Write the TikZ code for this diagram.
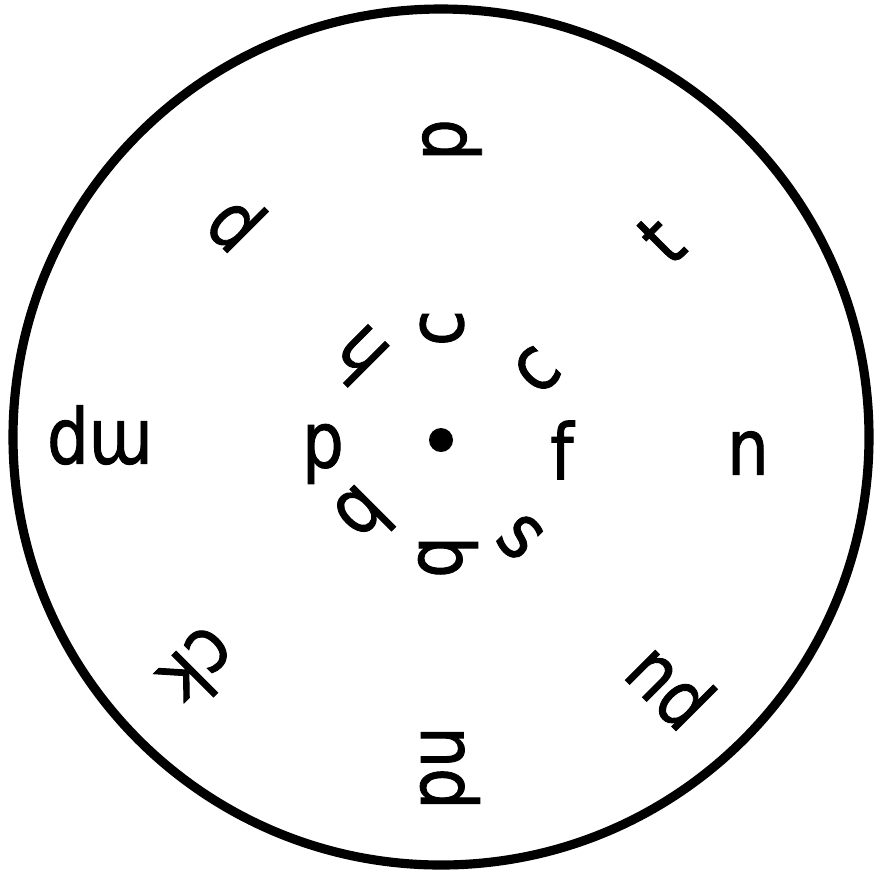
\documentclass[tikz,border=0pt]{standalone}
\usepackage{fontspec}
\setmainfont{DejaVu Sans}[FakeStretch=0.85,FakeBold=1.2]
\begin{document}
\begin{tikzpicture}[x=0.01cm,y=-0.01cm,
  lt/.style={inner sep=0pt, font=\fontsize{22}{26}\selectfont}]
\useasboundingbox (0,0) rectangle (882,869);
\fill[white] (0,0) rectangle (882,869);
\draw[line width=2.6pt] (441,437) circle[radius=428];
\fill (441,440) circle[radius=12];
% outer ring
\node[lt, rotate=0]   (o1) at (748,453) {n};
\node[lt, rotate=45]  (o2) at (661,240) {t};
\node[lt, rotate=90]  (o3) at (452,140) {p};
\node[lt, rotate=135] (o4) at (237,222) {p};
\node[lt, rotate=180] (o5) at (100,435) {mp};
\node[lt, rotate=225] (o6) at (200,668) {ck};
\node[lt, rotate=270] (o7) at (450,768) {nd};
\node[lt, rotate=315] (o8) at (671,685) {nd};
% inner ring
\node[lt, rotate=0]   (i1) at (562,450) {f};
\node[lt, rotate=45]  (i2) at (537,370) {c};
\node[lt, rotate=90]  (i3) at (442,328) {c};
\node[lt, rotate=135] (i4) at (358,356) {h};
\node[lt, rotate=180] (i5) at (323,454) {d};
\node[lt, rotate=225] (i6) at (364,516) {b};
\node[lt, rotate=270] (i7) at (448,557) {b};
\node[lt, rotate=315] (i8) at (520,537) {s};
\end{tikzpicture}
\end{document}
